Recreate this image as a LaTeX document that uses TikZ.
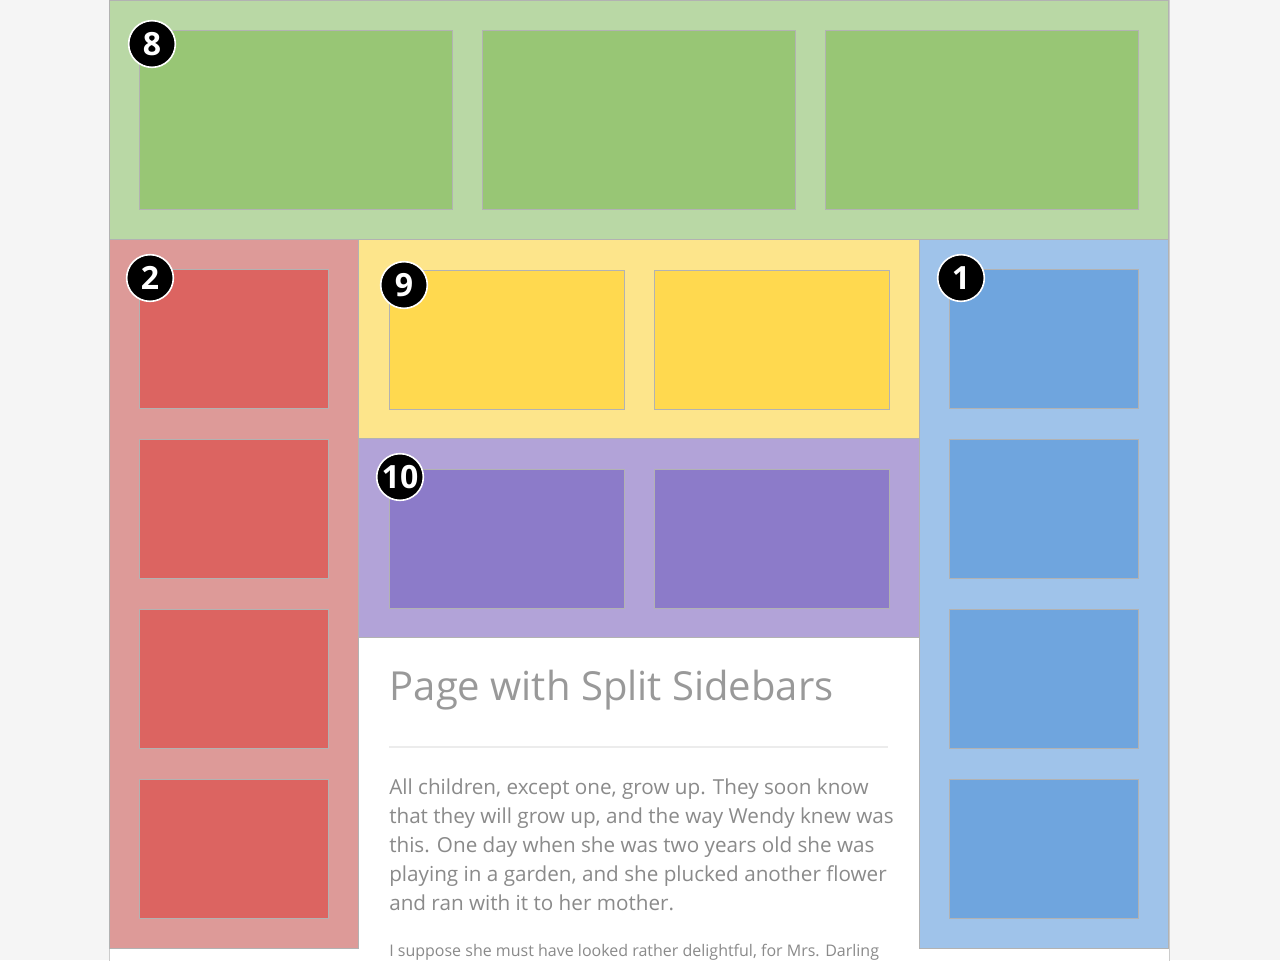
\documentclass[tikz,border=0pt]{standalone}
\usepackage{fontspec}
\setmainfont{Open Sans}
\definecolor{pagebg}{HTML}{F5F5F5}
\definecolor{hdrbg}{HTML}{B9D8A5}
\definecolor{hdrbox}{HTML}{98C675}
\definecolor{redbg}{HTML}{DD9A98}
\definecolor{redbox}{HTML}{DC6461}
\definecolor{yelbg}{HTML}{FDE58B}
\definecolor{yelbox}{HTML}{FFD94F}
\definecolor{purbg}{HTML}{B2A3D8}
\definecolor{purbox}{HTML}{8C7BC9}
\definecolor{blubg}{HTML}{9FC3EA}
\definecolor{blubox}{HTML}{6FA5DE}
\definecolor{txtgrey}{HTML}{8A8A8A}
\begin{document}
\begin{tikzpicture}[x=0.75pt,y=-0.75pt,
    panel/.style={draw=gray!60,line width=0.6pt},
    badge/.style={circle,fill=black,draw=white,line width=1.2pt,minimum size=35pt,inner sep=0pt,text=white,font=\bfseries\fontsize{24}{24}\selectfont}]
  \useasboundingbox (0,0) rectangle (1280,960);
  \clip (0,0) rectangle (1280,960);
  \fill[pagebg] (0,0) rectangle (1280,960);
  \fill[white,draw=gray!40] (109,-2) rectangle (1169,962);
  % header
  \filldraw[hdrbg,draw=gray!60] (109,0) rectangle (1168,239);
  \foreach \x in {139,482,825}
    \filldraw[hdrbox,panel] (\x,30) rectangle ++(313,179);
  % sidebars
  \filldraw[redbg,draw=gray!60] (109,239) rectangle (358,948);
  \filldraw[blubg,draw=gray!60] (919,239) rectangle (1168,948);
  \foreach \y in {269,439,609,779} {
    \filldraw[redbox,panel] (139,\y) rectangle ++(189,139);
    \filldraw[blubox,panel] (949,\y) rectangle ++(189,139);
  }
  % middle bands
  \filldraw[yelbg,draw=gray!60] (358,239) rectangle (919,438);
  \filldraw[purbg,draw=gray!60] (358,438) rectangle (919,637);
  \foreach \x in {389,654} {
    \filldraw[yelbox,panel] (\x,270) rectangle ++(235,139);
    \filldraw[purbox,panel] (\x,469) rectangle ++(235,139);
  }
  % content
  \node[anchor=west,text=gray!80,font=\fontsize{30}{36}\selectfont] (title) at (385,690) {Page with Split Sidebars};
  \draw[gray!15,line width=0.8pt] (389,747) -- (888,747);
  \node[anchor=north west,text=txtgrey,align=left,inner sep=0pt,font=\fontsize{15.5}{21.75}\selectfont] (para) at (389,779)
    {All children, except one, grow up. They soon know\\
     that they will grow up, and the way Wendy knew was\\
     this. One day when she was two years old she was\\
     playing in a garden, and she plucked another flower\\
     and ran with it to her mother.};
  \node[anchor=north west,text=txtgrey,inner sep=0pt,font=\fontsize{12}{14}\selectfont] (para2) at (389,944)
    {I suppose she must have looked rather delightful, for Mrs. Darling};
  % badges
  \node[badge] (b8) at (152,44) {8};
  \node[badge] (b2) at (150,278) {2};
  \node[badge] (b9) at (404,285) {9};
  \node[badge] (b1) at (961,278) {1};
  \node[badge] (b10) at (400,477) {10};
\end{tikzpicture}
\end{document}
